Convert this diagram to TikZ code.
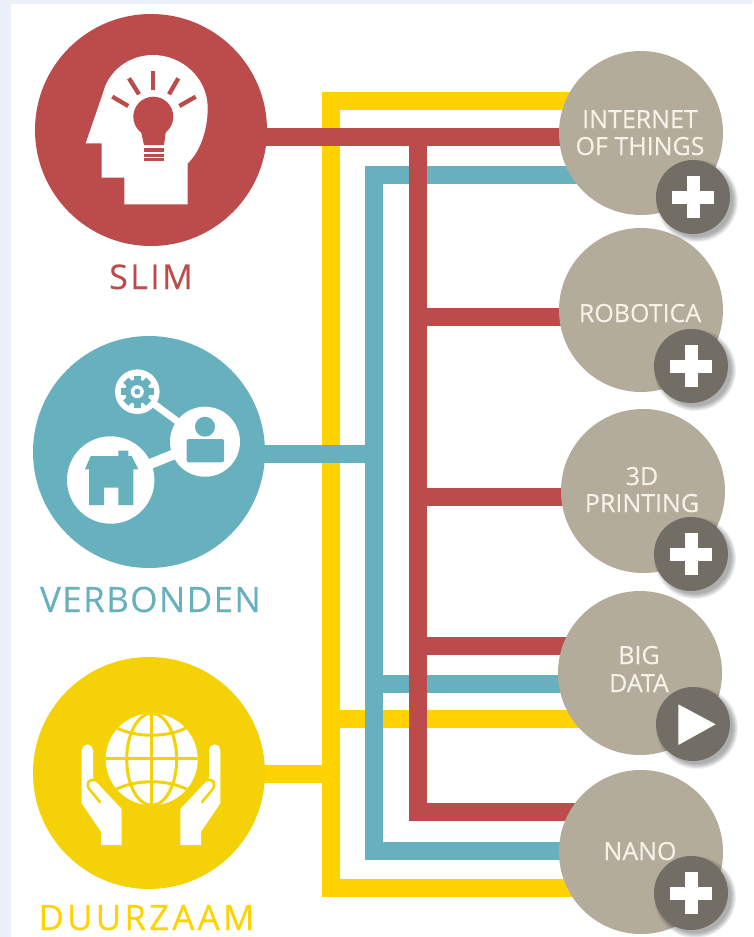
\documentclass[tikz,border=0pt]{standalone}
\usepackage{fontspec}
\usetikzlibrary{backgrounds,calc}
\setmainfont{Open Sans}
\newfontfamily\bigfont[LetterSpace=4,FakeBold=0.2]{Open Sans}
\newfontfamily\slimfont[LetterSpace=7,FakeBold=0.2]{Open Sans}
\newfontfamily\duurfont[LetterSpace=9,FakeBold=0.2]{Open Sans}
\newfontfamily\smallfont[FakeBold=0.3]{Open Sans}
\definecolor{cred}{HTML}{BC4B4B}
\definecolor{cteal}{HTML}{67B1BF}
\definecolor{cyel}{HTML}{F5D108}
\definecolor{lyel}{HTML}{FFD200}
\definecolor{cgray}{HTML}{B3AC9B}
\definecolor{cdark}{HTML}{736E65}
\definecolor{cbg}{HTML}{EAF1F8}
\definecolor{ctxt}{HTML}{F5F2E8}
\tikzset{
  theme/.style={circle,inner sep=0pt,minimum size=232pt},
  topic/.style={circle,inner sep=0pt,minimum size=164pt,fill=cgray},
  badge/.style={circle,inner sep=0pt,minimum size=74pt,fill=cdark},
  wire/.style={line width=18pt},
  topiclabel/.style={anchor=base,inner sep=0pt,text=ctxt,font=\smallfont\fontsize{25}{25}\selectfont},
  themelabel/.style={anchor=base,inner sep=0pt},
}
\newcommand{\shadowat}[1]{%
  \foreach \rr in {41,40,39,38,37,36}{\fill[black,opacity=0.06] ($(#1)+(4,4)$) circle (\rr);}}
\newcommand{\plusat}[1]{%
  \fill[white] ($(#1)+(-21,-6.5)$) rectangle ($(#1)+(21,6.5)$);
  \fill[white] ($(#1)+(-6.5,-21)$) rectangle ($(#1)+(6.5,21)$);}
\newcommand{\handshape}{%
  \fill[white] (81.7,750) -- (81.7,803.3) -- (101,831.7) -- (101,845) -- (121.7,845) -- (121.7,809) -- (95,780.7) -- (93,778) -- (93,750) arc[start angle=0,end angle=-180,radius=5.65] -- cycle;
  \draw[cyel,line width=2.6pt,line cap=round] (100,802) -- (90,790) .. controls (85,784) and (89,778) .. (95,780.5);
}
\begin{document}
\begin{tikzpicture}[x=1pt,y=-1pt]
\useasboundingbox (0,0) rectangle (753,937);
% ---- nodes
\node[theme,fill=cred] (slim) at (151,130) {};
\node[theme,fill=cteal] (verbonden) at (149,452) {};
\node[theme,fill=cyel] (duurzaam) at (149,773) {};
\node[topic] (iot) at (641,133) {};
\node[topic] (robotica) at (641,310) {};
\node[topic] (printing) at (643,491) {};
\node[topic] (bigdata) at (640,673) {};
\node[topic] (nano) at (641,852) {};
\coordinate (y1) at (331,101);
\coordinate (y2) at (331,719);
\coordinate (y3) at (331,774);
\coordinate (y4) at (331,888);
\coordinate (t1) at (373.5,175);
\coordinate (t2) at (373.5,454);
\coordinate (t3) at (373.5,684);
\coordinate (t4) at (373.5,851);
\coordinate (r1) at (418,137);
\coordinate (r2) at (418,317);
\coordinate (r3) at (418,497);
\coordinate (r4) at (418,646);
\coordinate (r5) at (418,812);
% ---- page and wires, under the nodes
\begin{pgfonlayer}{background}
  \fill[white] (0,0) rectangle (753,937);
  \fill[cbg] (0,0) rectangle (753,4);
  \fill[cbg] (0,0) rectangle (11,937);
  \draw[wire,lyel] (iot |- y1) -- (y1) -- (y4) -- (nano |- y4);
  \draw[wire,lyel] (y2) -- (bigdata |- y2);
  \draw[wire,lyel] (duurzaam |- y3) -- (y3);
  \draw[wire,cteal] (iot |- t1) -- (t1) -- (t4) -- (nano |- t4);
  \draw[wire,cteal] (t3) -- (bigdata |- t3);
  \draw[wire,cteal] (verbonden |- t2) -- ($(t2)+(9,0)$);
  \draw[wire,cred] (slim |- r1) -- (iot |- r1);
  \draw[wire,cred] (r1) -- (r5) -- (nano |- r5);
  \draw[wire,cred] (r2) -- (robotica |- r2);
  \draw[wire,cred] (r3) -- (printing |- r3);
  \draw[wire,cred] (r4) -- (bigdata |- r4);
\end{pgfonlayer}
% ---- SLIM icon
\fill[white] (85.7,143.3) -- (101.7,143.3) -- (101.7,177.7) -- (124.3,177.7) -- (124.3,204.3) -- (187.7,204.3) -- (187.7,163.3)
  .. controls (200,152) and (207.7,130) .. (207.7,108)
  .. controls (207.7,78) and (182,55) .. (153,55)
  .. controls (128,55) and (108,72) .. (103,93) -- cycle;
\fill[cred] (153.3,116.7) circle (20);
\fill[cred] (140,127) -- (166.5,127) -- (164,145) -- (144,145) -- cycle;
\fill[cred] (144,148) rectangle (164,151.5);
\fill[cred] (144,153.5) rectangle (164,156.5);
\fill[cred] (144,158) rectangle (164,161);
\draw[cred,line width=4.3pt] (153.3,71) -- (153.3,90);
\draw[cred,line width=4.3pt] (129,78.3) -- (139,94.3);
\draw[cred,line width=4.3pt] (178.3,78.3) -- (169,94.3);
\draw[cred,line width=4.3pt] (112.3,96.7) -- (128.3,106);
\draw[cred,line width=4.3pt] (195.7,96.7) -- (179.3,106);
% ---- VERBONDEN icon
\draw[white,line width=7pt] (137.3,391.7) -- (205,441.7);
\draw[white,line width=10pt] (110.7,480) -- (205,441.7);
\fill[white] (137.3,391.7) circle (22.3);
\fill[white] (205,441.7) circle (35);
\fill[white] (110.7,480) circle (43.7);
\foreach \a in {0,45,...,315}{\fill[cteal,rotate around={\a:(137.3,391.7)}] (133.6,375.5) rectangle (141,385);}
\fill[cteal] (137.3,391.7) circle (12.3);
\fill[white] (137.3,391.7) circle (6.5);
\fill[cteal] (137.3,391.7) circle (3);
\fill[cteal] (205,426.7) circle (10);
\fill[cteal,rounded corners=2pt] (186.7,439) rectangle (224,462.3);
\fill[cteal] (85,469.3) -- (90.7,456) -- (118.3,456) -- (118.3,450.7) -- (128.3,450.7) -- (128.3,456) -- (131.7,456) -- (138.3,469.3) -- (133.3,469.3) -- (133.3,505) -- (118.3,505) -- (118.3,487.7) -- (104,487.7) -- (104,505) -- (89,505) -- (89,469.3) -- cycle;
% ---- DUURZAAM icon
\fill[white] (151.7,759.3) circle (46);
\begin{scope}
  \clip (151.7,759.3) circle (46);
  \draw[cyel,line width=3pt] (151.7,713) -- (151.7,806);
  \draw[cyel,line width=3pt] (105,758.5) -- (198,758.5);
  \draw[cyel,line width=3pt] (151.7,759.3) ellipse (25 and 46);
  \draw[cyel,line width=3pt] (115,727) .. controls (135,738) and (168,738) .. (188,727);
  \draw[cyel,line width=3pt] (115,790) .. controls (135,779) and (168,779) .. (188,790);
\end{scope}
\handshape
\begin{scope}[xshift=302pt,xscale=-1]
  \handshape
\end{scope}
% ---- badges
\shadowat{693,197}
\node[badge] (b1) at (693,197) {};
\plusat{b1}
\shadowat{691,366}
\node[badge] (b2) at (691,366) {};
\plusat{b2}
\shadowat{691,554}
\node[badge] (b3) at (691,554) {};
\plusat{b3}
\shadowat{693,724}
\node[badge] (b4) at (693,724) {};
\fill[white] (678.3,704.3) -- (678.3,745) -- (715.7,724.3) -- cycle;
\shadowat{691,893}
\node[badge] (b5) at (691,893) {};
\plusat{b5}
% ---- labels
\node[themelabel,text=cred,font=\slimfont\fontsize{34}{34}\selectfont] (l1) at (151,289) {SLIM};
\node[themelabel,text=cteal,font=\bigfont\fontsize{35}{35}\selectfont] (l2) at (150.5,612) {VERBONDEN};
\node[themelabel,text=lyel,font=\duurfont\fontsize{35}{35}\selectfont] (l3) at (146.5,930) {DUURZAAM};
\node[topiclabel] (t1a) at (640,128) {INTERNET};
\node[topiclabel] (t1b) at (640,155) {OF THINGS};
\node[topiclabel] (t2a) at (640,322) {ROBOTICA};
\node[topiclabel] (t3a) at (642,485) {3D};
\node[topiclabel] (t3b) at (642,512) {PRINTING};
\node[topiclabel] (t4a) at (639,664) {BIG};
\node[topiclabel] (t4b) at (639,692) {DATA};
\node[topiclabel] (t5a) at (640,860) {NANO};
\end{tikzpicture}
\end{document}
